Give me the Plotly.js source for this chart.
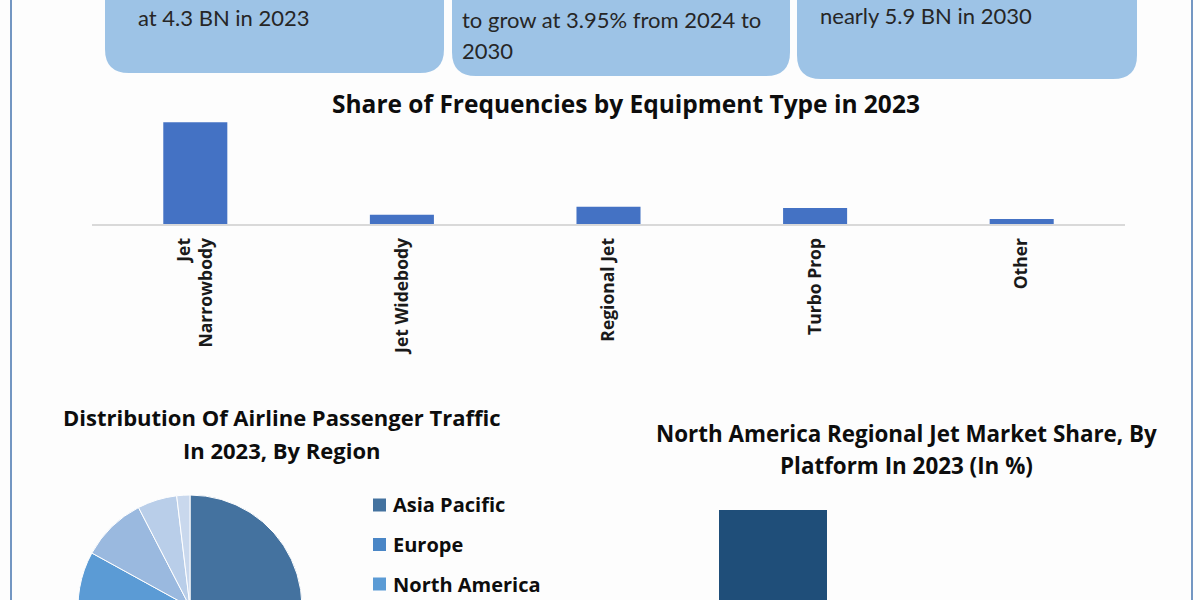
<!DOCTYPE html>
<html>
<head>
<meta charset="utf-8">
<script src="https://cdn.plot.ly/plotly-3.0.1.min.js"></script>
<style>
  html, body { margin: 0; padding: 0; overflow: hidden; background: #fdfdfd; }
  #chart { width: 1200px; height: 720px; }
</style>
</head>
<body>
<div id="chart"></div>
<script>
// ---- Data ----
const equipmentTypes = ['Jet<br>Narrowbody', 'Jet Widebody', 'Regional Jet', 'Turbo Prop', 'Other'];
const equipmentShare = [68.2, 6.2, 11.6, 10.7, 3.3];

const regions = ['Asia Pacific', 'Europe', 'North America', 'Middle East', 'Latin America', 'Africa'];
const regionShare = [36, 26, 21, 9.4, 5.7, 1.9];
const regionColors = ['#44729f', '#4a86c6', '#5b9bd5', '#9ab9df', '#b9cee9', '#c9d8ed'];

const platforms = ['Leading platform'];
const platformShare = [47.7];

const cardLines = [
  ['at 4.3 BN in 2023'],
  ['to grow at 3.95% from 2024 to', '2030'],
  ['nearly 5.9 BN in 2030']
];

// ---- Layout helpers (pixel -> paper) ----
const W = 1200, H = 720, VIEW_H = 600;
const px = x => x / W;
const py = y => 1 - y / H;
const BODY_FONT = 'Lato, "Open Sans", sans-serif';
const BOLD_FONT = '"Open Sans", Lato, sans-serif';

function roundedCard(x0, x1, y0, y1, r) {
  return 'M' + px(x0) + ',' + py(y0) +
    ' L' + px(x0) + ',' + py(y1 - r) +
    ' Q' + px(x0) + ',' + py(y1) + ' ' + px(x0 + r) + ',' + py(y1) +
    ' L' + px(x1 - r) + ',' + py(y1) +
    ' Q' + px(x1) + ',' + py(y1) + ' ' + px(x1) + ',' + py(y1 - r) +
    ' L' + px(x1) + ',' + py(y0) + ' Z';
}

const cards = [
  {x0: 105, x1: 444, y1: 73, tx: 136, ty: 17},
  {x0: 452, x1: 790, y1: 76, tx: 460, ty: 19},
  {x0: 797, x1: 1137, y1: 79, tx: 818, ty: 15}
];

const shapes = [];
const annotations = [];

cards.forEach((c, i) => {
  shapes.push({type: 'path', xref: 'paper', yref: 'paper', path: roundedCard(c.x0, c.x1, -60, c.y1, 24),
               fillcolor: '#9dc3e6', line: {width: 0}, layer: 'below'});
  cardLines[i].forEach((t, j) => {
    annotations.push({xref: 'paper', yref: 'paper', x: px(c.tx), y: py(c.ty + j * 32),
      xanchor: 'left', yanchor: 'middle', text: t, showarrow: false,
      font: {family: BODY_FONT, size: 22, color: '#262626'}});
  });
});

// border lines
shapes.push({type: 'line', xref: 'paper', yref: 'paper', x0: px(11), x1: px(11), y0: 0, y1: 1, line: {color: '#7396c2', width: 2}});
shapes.push({type: 'line', xref: 'paper', yref: 'paper', x0: px(1192), x1: px(1192), y0: 0, y1: 1, line: {color: '#7396c2', width: 2}});

// titles
const titles = [
  {t: 'Share of Frequencies by Equipment Type in 2023', x: 626, y: 104, s: 24.5},
  {t: 'Distribution Of Airline Passenger Traffic', x: 282, y: 417, s: 22},
  {t: 'In 2023, By Region', x: 282, y: 450, s: 22},
  {t: 'North America Regional Jet Market Share, By', x: 906, y: 433, s: 22.4},
  {t: 'Platform In 2023 (In %)', x: 906, y: 465, s: 22.4}
];
titles.forEach(o => annotations.push({xref: 'paper', yref: 'paper', x: px(o.x), y: py(o.y),
  xanchor: 'center', yanchor: 'middle', text: '<b>' + o.t + '</b>', showarrow: false,
  font: {family: BOLD_FONT, size: o.s, color: '#0d0d0d'}}));

// pie legend (built from data arrays; entries below the visible window are cut like the reference)
regions.forEach((r, i) => {
  const cy = 505 + i * 39.5;
  if (cy + 10 > VIEW_H) return;
  shapes.push({type: 'rect', xref: 'paper', yref: 'paper', x0: px(373), x1: px(386), y0: py(cy - 6.5), y1: py(cy + 6.5),
               fillcolor: regionColors[i], line: {width: 0}});
  annotations.push({xref: 'paper', yref: 'paper', x: px(391), y: py(cy), xanchor: 'left', yanchor: 'middle',
    text: '<b>' + r + '</b>', showarrow: false, font: {family: BOLD_FONT, size: 20, color: '#0d0d0d'}});
});

const data = [
  {
    type: 'bar', x: equipmentTypes, y: equipmentShare, xaxis: 'x', yaxis: 'y',
    marker: {color: '#4472c4'}, hoverinfo: 'x+y', showlegend: false
  },
  {
    type: 'pie', labels: regions, values: regionShare, sort: false, direction: 'clockwise', rotation: 0,
    marker: {colors: regionColors, line: {color: '#ffffff', width: 1}},
    textinfo: 'none', showlegend: false,
    domain: {x: [px(78), px(302)], y: [py(719), py(495)]}
  },
  {
    type: 'bar', x: platforms, y: platformShare, xaxis: 'x2', yaxis: 'y2',
    marker: {color: '#1f4e79'}, showlegend: false, width: 1
  }
];

const layout = {
  width: W, height: H,
  margin: {l: 0, r: 0, t: 0, b: 0},
  paper_bgcolor: '#fdfdfd', plot_bgcolor: 'rgba(0,0,0,0)',
  font: {family: BOLD_FONT},
  bargap: 0.69,
  xaxis: {
    domain: [px(92), px(1125)], anchor: 'y',
    showline: true, linecolor: '#d9d9d9', linewidth: 2,
    showgrid: false, zeroline: false, ticks: '', tickangle: -90,
    ticklabelstandoff: 5,
    tickfont: {family: BOLD_FONT, size: 17.5, color: '#1a1a1a', weight: 'bold'},
    fixedrange: true
  },
  yaxis: {
    domain: [py(224), py(112)], anchor: 'x', range: [0, 75],
    visible: false, fixedrange: true
  },
  xaxis2: {
    domain: [px(719), px(827)], anchor: 'y2', range: [-0.5, 0.5], visible: false, fixedrange: true
  },
  yaxis2: {
    domain: [0, py(500)], anchor: 'x2', range: [0, 50], visible: false, fixedrange: true
  },
  shapes: shapes,
  annotations: annotations
};

Plotly.newPlot('chart', data, layout, {displayModeBar: false, staticPlot: true});
</script>
</body>
</html>
